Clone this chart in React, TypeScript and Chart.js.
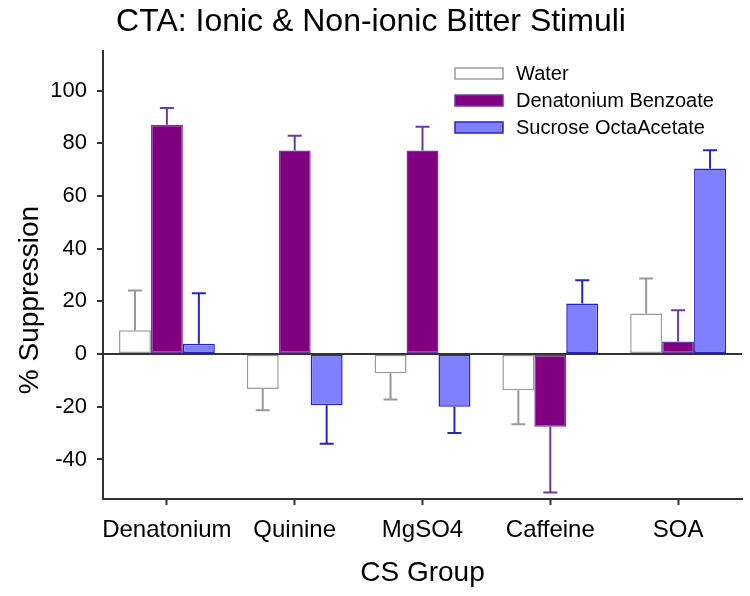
import React, { useRef, useEffect } from 'react';
import { Chart, registerables } from 'chart.js';

Chart.register(...registerables);

const FONT = "'Liberation Sans', Arial, Helvetica, sans-serif";

const categories = ['Denatonium', 'Quinine', 'MgSO4', 'Caffeine', 'SOA'];
const seriesNames = ['Water', 'Denatonium Benzoate', 'Sucrose OctaAcetate'];

const waterMeans = [9, -13.3, -7.3, -13.7, 15.4];
const waterErr = [15.1, 8, 9.9, 12.9, 13.3];
const dbMeans = [87, 77.2, 77.2, -27.6, 4.8];
const dbErr = [6.4, 5.6, 9.1, 24.9, 11.8];
const soaMeans = [3.9, -19.4, -20, 19.2, 70.4];
const soaErr = [19.2, 14.6, 10, 8.8, 6.9];

const yTicks = [-40, -20, 0, 20, 40, 60, 80, 100];

// one-sided error bars, pointing away from zero
const errorBars = {
  id: 'errorBars',
  afterDatasetsDraw(chart: any) {
    const ctx = chart.ctx;
    const y = chart.scales.y;
    chart.data.datasets.forEach((ds: any, i: number) => {
      const meta = chart.getDatasetMeta(i);
      meta.data.forEach((bar: any, j: number) => {
        const v = ds.data[j];
        const e = ds.errors[j];
        const end = y.getPixelForValue(v >= 0 ? v + e : v - e);
        ctx.save();
        ctx.strokeStyle = ds.errorColor;
        ctx.lineWidth = 2;
        ctx.beginPath();
        ctx.moveTo(bar.x, bar.y);
        ctx.lineTo(bar.x, end);
        ctx.moveTo(bar.x - 7, end);
        ctx.lineTo(bar.x + 7, end);
        ctx.stroke();
        ctx.restore();
      });
    });
  },
};

// legend inside the plot and the y title, placed by hand
const extras = {
  id: 'extras',
  afterDraw(chart: any) {
    const ctx = chart.ctx;
    ctx.save();
    chart.data.datasets.forEach((ds: any, i: number) => {
      const top = 68 + i * 27;
      ctx.fillStyle = ds.backgroundColor;
      ctx.fillRect(455, top, 48, 11);
      ctx.strokeStyle = ds.borderColor;
      ctx.lineWidth = 1.5;
      ctx.strokeRect(455, top, 48, 11);
      ctx.fillStyle = '#000';
      ctx.font = `20px ${FONT}`;
      ctx.textAlign = 'left';
      ctx.textBaseline = 'middle';
      ctx.fillText(ds.label, 516, top + 6);
    });
    ctx.translate(30, 300);
    ctx.rotate(-Math.PI / 2);
    ctx.font = `28px ${FONT}`;
    ctx.textAlign = 'center';
    ctx.textBaseline = 'middle';
    ctx.fillText('% Suppression', 0, 0);
    ctx.restore();
  },
};

const App: React.FC = () => {
  const canvasRef = useRef<HTMLCanvasElement>(null);
  const chartRef = useRef<Chart | null>(null);

  useEffect(() => {
    document.body.style.margin = '0';
    if (!canvasRef.current) return;
    if (chartRef.current) chartRef.current.destroy();

    chartRef.current = new Chart(canvasRef.current, {
      type: 'bar',
      data: {
        labels: categories,
        datasets: [
          {
            label: seriesNames[0],
            data: waterMeans,
            errors: waterErr,
            errorColor: '#999999',
            backgroundColor: '#ffffff',
            borderColor: '#9a9a9a',
            borderWidth: 1.5,
            borderSkipped: false,
          },
          {
            label: seriesNames[1],
            data: dbMeans,
            errors: dbErr,
            errorColor: '#6a3aa6',
            backgroundColor: '#800080',
            borderColor: '#6a3aa6',
            borderWidth: 1.5,
            borderSkipped: false,
          },
          {
            label: seriesNames[2],
            data: soaMeans,
            errors: soaErr,
            errorColor: '#2424bf',
            backgroundColor: '#8080ff',
            borderColor: '#2424bf',
            borderWidth: 1.5,
            borderSkipped: false,
          },
        ] as any,
      },
      options: {
        animation: false,
        responsive: true,
        maintainAspectRatio: false,
        layout: { padding: { left: 0, right: 8, top: 0, bottom: 0 } },
        datasets: { bar: { categoryPercentage: 0.75, barPercentage: 1 } },
        plugins: {
          legend: { display: false },
          tooltip: { enabled: false },
          title: {
            display: true,
            text: 'CTA: Ionic & Non-ionic Bitter Stimuli',
            color: '#000',
            font: { family: FONT, size: 32, weight: 'normal' },
            padding: { top: 3, bottom: 9.6 },
          },
        },
        scales: {
          x: {
            offset: true,
            grid: {
              offset: false,
              drawOnChartArea: false,
              tickLength: 6,
              tickWidth: 2,
              tickColor: '#333',
            },
            border: { display: true, color: '#333', width: 2 },
            ticks: {
              color: '#000',
              padding: 11,
              maxRotation: 0,
              minRotation: 0,
              autoSkip: false,
              font: { family: FONT, size: 24 },
            },
            title: {
              display: true,
              text: 'CS Group',
              color: '#000',
              font: { family: FONT, size: 28 },
              padding: { top: 0, bottom: 6 },
            },
            afterFit(scale: any) {
              scale.height = 97;
            },
          },
          y: {
            min: -55,
            max: 115,
            afterBuildTicks(scale: any) {
              scale.ticks = yTicks.map((v) => ({ value: v }));
            },
            grid: {
              color: (c: any) => (c.tick && c.tick.value === 0 ? '#333' : 'rgba(0,0,0,0)'),
              lineWidth: 2,
              tickLength: 6,
              tickWidth: 2,
              tickColor: '#333',
            },
            border: { display: true, color: '#333', width: 2 },
            ticks: { color: '#000', padding: 10, font: { family: FONT, size: 22 } },
            afterFit(scale: any) {
              scale.width = 103;
            },
          },
        },
      },
      plugins: [errorBars, extras],
    } as any);

    return () => {
      if (chartRef.current) {
        chartRef.current.destroy();
        chartRef.current = null;
      }
    };
  }, []);

  return (
    <div style={{ position: 'relative', width: 750, height: 596 }}>
      <canvas ref={canvasRef}></canvas>
    </div>
  );
};

export default App;
